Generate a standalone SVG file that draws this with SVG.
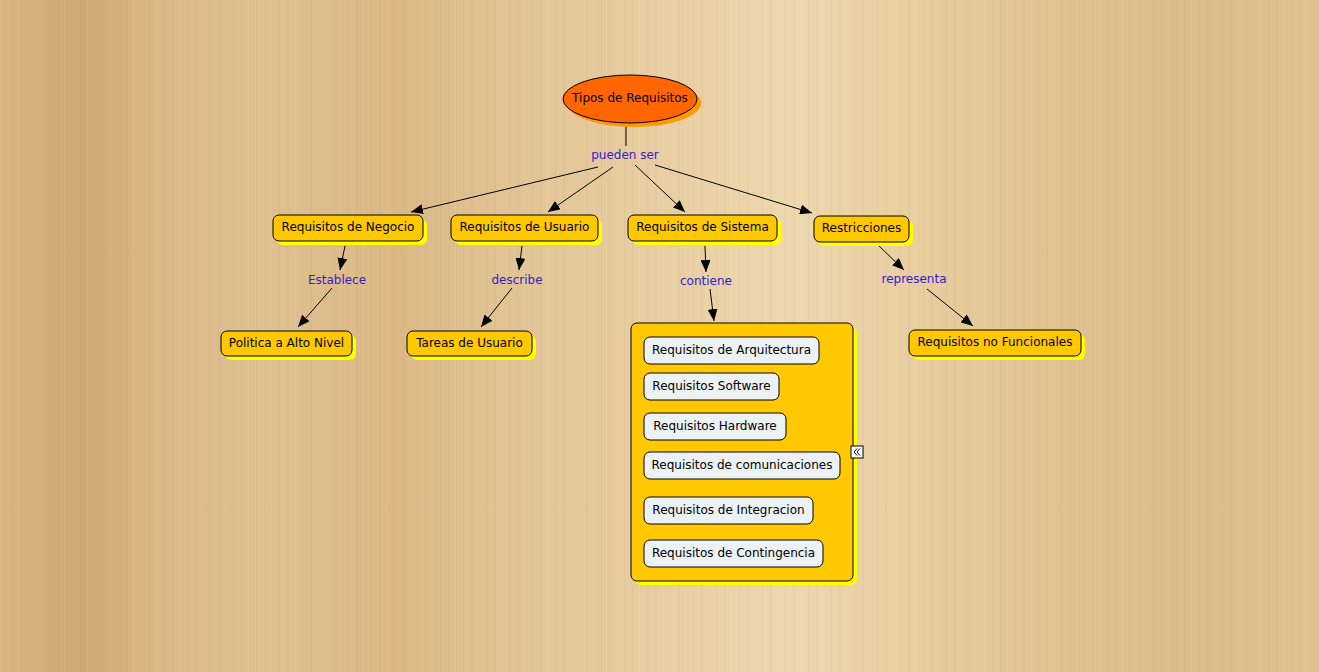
<svg xmlns="http://www.w3.org/2000/svg" width="1319" height="672" viewBox="0 0 1319 672">
<defs>
<linearGradient id="wood" x1="0" y1="0" x2="1" y2="0">
<stop offset="0" stop-color="#d8b581"/>
<stop offset="0.06" stop-color="#cfa872"/>
<stop offset="0.12" stop-color="#dbb887"/>
<stop offset="0.2" stop-color="#e0c091"/>
<stop offset="0.3" stop-color="#dbb886"/>
<stop offset="0.4" stop-color="#e2c597"/>
<stop offset="0.5" stop-color="#e8cea2"/>
<stop offset="0.6" stop-color="#eed8ae"/>
<stop offset="0.7" stop-color="#e8cd9f"/>
<stop offset="0.8" stop-color="#e0c292"/>
<stop offset="0.9" stop-color="#dcbc8a"/>
<stop offset="1" stop-color="#e0c191"/>
</linearGradient>
<pattern id="grain" width="23" height="672" patternUnits="userSpaceOnUse">
<rect x="3" y="0" width="1" height="672" fill="#a57a45" opacity="0.08"/>
<rect x="11" y="0" width="2" height="672" fill="#b8915a" opacity="0.07"/>
<rect x="18" y="0" width="1" height="672" fill="#fff3d8" opacity="0.1"/>
</pattern>
<marker id="arr" viewBox="0 0 12 10" refX="12" refY="5" markerWidth="12" markerHeight="10" markerUnits="userSpaceOnUse" orient="auto">
<path d="M0,0 L12,5 L0,10 z" fill="#000"/>
</marker>
</defs>
<style>
.node rect.sh{fill:#ffff00}
.node rect.bx{fill:#ffc800;stroke:#000;stroke-width:1}
.inner rect{fill:#ecf1f3;stroke:#000;stroke-width:1}
text{font-family:"DejaVu Sans","Liberation Sans",sans-serif;font-size:12px}
.t{fill:#000;text-anchor:middle}
.lbl{fill:#3322cc;text-anchor:middle}
.conn line{stroke:#000;stroke-width:1}
.conn line.a{marker-end:url(#arr)}
</style>
<rect width="1319" height="672" fill="url(#wood)"/>
<rect width="1319" height="672" fill="url(#grain)"/>

<g class="conn">
<line x1="626" y1="124" x2="626" y2="146"/>
<line class="a" x1="598" y1="167" x2="411" y2="212"/>
<line class="a" x1="613" y1="167" x2="548" y2="212"/>
<line class="a" x1="635" y1="165" x2="685" y2="212"/>
<line class="a" x1="655" y1="165" x2="812" y2="213"/>
<line class="a" x1="345" y1="246" x2="340" y2="270"/>
<line class="a" x1="332" y1="288" x2="298" y2="327"/>
<line class="a" x1="522" y1="246" x2="519" y2="270"/>
<line class="a" x1="512" y1="288" x2="481" y2="327"/>
<line class="a" x1="705" y1="246" x2="706" y2="272"/>
<line class="a" x1="710" y1="289" x2="714" y2="321"/>
<line class="a" x1="878" y1="245" x2="904" y2="270"/>
<line class="a" x1="927" y1="289" x2="973" y2="326"/>
<text class="lbl" x="625" y="159">pueden ser</text>
<text class="lbl" x="337" y="284">Establece</text>
<text class="lbl" x="517" y="284">describe</text>
<text class="lbl" x="706" y="285">contiene</text>
<text class="lbl" x="914" y="283">representa</text>
</g>

<g id="tipos">
<ellipse cx="634" cy="103" rx="67" ry="24" fill="#ff9900"/>
<ellipse cx="630" cy="99" rx="67" ry="24" fill="#ff6600" stroke="#000" stroke-width="1"/>
<text class="t" x="630" y="102">Tipos de Requisitos</text>
</g>

<g id="negocio" class="node">
<rect class="sh" x="277" y="219" width="150" height="26" rx="6"/>
<rect class="bx" x="273" y="215" width="150" height="26" rx="6"/>
<text class="t" x="348" y="231">Requisitos de Negocio</text>
</g>
<g id="usuario" class="node">
<rect class="sh" x="455" y="219" width="147" height="26" rx="6"/>
<rect class="bx" x="451" y="215" width="147" height="26" rx="6"/>
<text class="t" x="524.5" y="231">Requisitos de Usuario</text>
</g>
<g id="sistema" class="node">
<rect class="sh" x="632" y="219" width="149" height="26" rx="6"/>
<rect class="bx" x="628" y="215" width="149" height="26" rx="6"/>
<text class="t" x="702.5" y="231">Requisitos de Sistema</text>
</g>
<g id="restricciones" class="node">
<rect class="sh" x="818" y="220" width="95" height="26" rx="6"/>
<rect class="bx" x="814" y="216" width="95" height="26" rx="6"/>
<text class="t" x="861.5" y="232">Restricciones</text>
</g>
<g id="politica" class="node">
<rect class="sh" x="225" y="335" width="131" height="25" rx="6"/>
<rect class="bx" x="221" y="331" width="131" height="25" rx="6"/>
<text class="t" x="286.5" y="347">Politica a Alto Nivel</text>
</g>
<g id="tareas" class="node">
<rect class="sh" x="411" y="335" width="125" height="25" rx="6"/>
<rect class="bx" x="407" y="331" width="125" height="25" rx="6"/>
<text class="t" x="469.5" y="347">Tareas de Usuario</text>
</g>
<g id="nofuncionales" class="node">
<rect class="sh" x="913" y="334" width="172" height="26" rx="6"/>
<rect class="bx" x="909" y="330" width="172" height="26" rx="6"/>
<text class="t" x="995" y="346">Requisitos no Funcionales</text>
</g>

<g id="contenedor" class="node">
<rect class="sh" x="635" y="327" width="222" height="258" rx="6"/>
<rect class="bx" x="631" y="323" width="222" height="258" rx="6"/>
<g class="inner">
<rect x="644" y="337" width="175" height="27" rx="6"/>
<text class="t" x="731.5" y="354">Requisitos de Arquitectura</text>
<rect x="644" y="373" width="135" height="27" rx="6"/>
<text class="t" x="711.5" y="390">Requisitos Software</text>
<rect x="644" y="413" width="142" height="27" rx="6"/>
<text class="t" x="715" y="430">Requisitos Hardware</text>
<rect x="644" y="452" width="196" height="27" rx="6"/>
<text class="t" x="742" y="469">Requisitos de comunicaciones</text>
<rect x="644" y="497" width="169" height="27" rx="6"/>
<text class="t" x="728.5" y="514">Requisitos de Integracion</text>
<rect x="644" y="540" width="179" height="27" rx="6"/>
<text class="t" x="733.5" y="557">Requisitos de Contingencia</text>
</g>
<rect x="851" y="446" width="12" height="12" fill="#fff" stroke="#000" stroke-width="1"/>
<polyline points="857,448.5 854,452 857,455.5" fill="none" stroke="#000" stroke-width="1"/>
<polyline points="860,448.5 857,452 860,455.5" fill="none" stroke="#000" stroke-width="1"/>
</g>
</svg>
